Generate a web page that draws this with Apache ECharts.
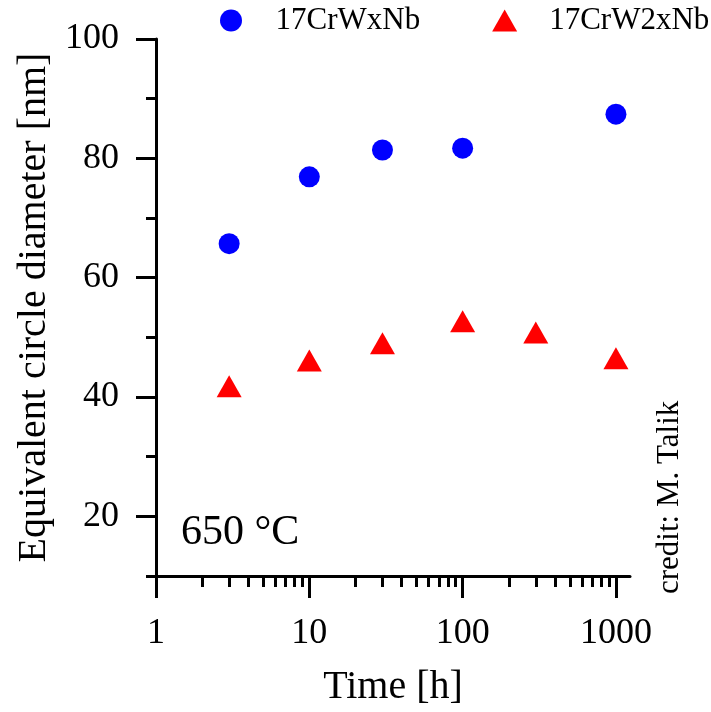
<!DOCTYPE html>
<html>
<head>
<meta charset="utf-8">
<script src="https://cdn.jsdelivr.net/npm/echarts@6/dist/echarts.min.js"></script>
<style>html,body{margin:0;padding:0;background:#fff}#c{width:711px;height:712px}</style>
</head>
<body>
<div id="c"></div>
<script>
// Data
var seriesNames = ['17CrWxNb', '17CrW2xNb'];
var timeA = [3, 10, 30, 100, 1000];
var diamA = [65.7, 76.9, 81.4, 81.7, 87.4];
var timeB = [3, 10, 30, 100, 300, 1000];
var diamB = [41.8, 46.1, 49.0, 52.7, 50.8, 46.5];
var xMajorTicks = [1, 10, 100, 1000];
var xMinorTicks = [2,3,4,5,6,7,8,9,20,30,40,50,60,70,80,90,200,300,400,500,600,700,800,900];
var yMajorTicks = [20, 40, 60, 80, 100];
var xTitle = 'Time [h]';
var yTitle = 'Equivalent circle diameter [nm]';

var FONT = "'Liberation Serif', 'Times New Roman', serif";
function pairs(xs, ys) { return xs.map(function (x, i) { return [x, ys[i]]; }); }

var chart = echarts.init(document.getElementById('c'));
var lineStyle = { color: '#000', width: 3 };
chart.setOption({
  backgroundColor: '#fff',
  animation: false,
  grid: { left: 156, right: 81, top: 39, bottom: 130, containLabel: false },
  legend: {
    top: 0, left: 215, width: 496, orient: 'horizontal',
    itemWidth: 25, itemHeight: 22, itemGap: 72,
    textStyle: { fontFamily: FONT, fontSize: 31, color: '#000', padding: [0, 0, 0, 27] },
    data: [{ name: seriesNames[0], icon: 'circle' }, { name: seriesNames[1], icon: 'triangle' }]
  },
  xAxis: [{
    type: 'log', logBase: 10, min: 1, max: 1235,
    name: xTitle, nameLocation: 'middle', nameGap: 91,
    nameTextStyle: { fontFamily: FONT, fontSize: 40, color: '#000' },
    axisLine: { lineStyle: lineStyle },
    axisTick: { show: true, inside: false, length: 22, lineStyle: lineStyle, customValues: xMajorTicks },
    axisLabel: { fontFamily: FONT, fontSize: 36, color: '#000', margin: 40, customValues: xMajorTicks,
      formatter: function (v) { return String(Math.round(v)); } },
    splitLine: { show: false }, minorTick: { show: false }
  }, {
    type: 'log', logBase: 10, min: 1, max: 1235, position: 'bottom',
    axisLine: { show: false },
    axisTick: { show: true, inside: false, length: 11, lineStyle: lineStyle, customValues: xMinorTicks },
    axisLabel: { show: false }, splitLine: { show: false }
  }],
  yAxis: [{
    type: 'value', min: 10, max: 100, interval: 10,
    name: yTitle, nameLocation: 'middle', nameGap: 102,
    nameTextStyle: { fontFamily: FONT, fontSize: 40, color: '#000' },
    axisLine: { lineStyle: lineStyle },
    axisTick: { show: true, inside: false, length: 20, lineStyle: lineStyle, customValues: yMajorTicks },
    axisLabel: { fontFamily: FONT, fontSize: 36, color: '#000', margin: 37, customValues: yMajorTicks },
    splitLine: { show: false }
  }, {
    type: 'value', min: 10, max: 100, interval: 10, position: 'left',
    axisLine: { show: false },
    axisTick: { show: true, inside: false, length: 10, lineStyle: lineStyle },
    axisLabel: { show: false }, splitLine: { show: false }
  }],
  series: [{
    name: seriesNames[0], type: 'scatter', data: pairs(timeA, diamA),
    symbol: 'circle', symbolSize: 21, itemStyle: { color: '#0000ff', opacity: 1 }
  }, {
    name: seriesNames[1], type: 'scatter', data: pairs(timeB, diamB),
    symbol: 'triangle', symbolSize: [25, 22], itemStyle: { color: '#ff0000', opacity: 1 }
  }],
  graphic: [{
    type: 'text', left: 181, top: 512,
    style: { text: '650 °C', font: '42px ' + FONT, fill: '#000' }
  }, {
    type: 'text', x: 654, y: 594, rotation: Math.PI / 2,
    style: { text: 'credit: M. Talik', font: '31px ' + FONT, fill: '#000' }
  }]
});
</script>
</body>
</html>
